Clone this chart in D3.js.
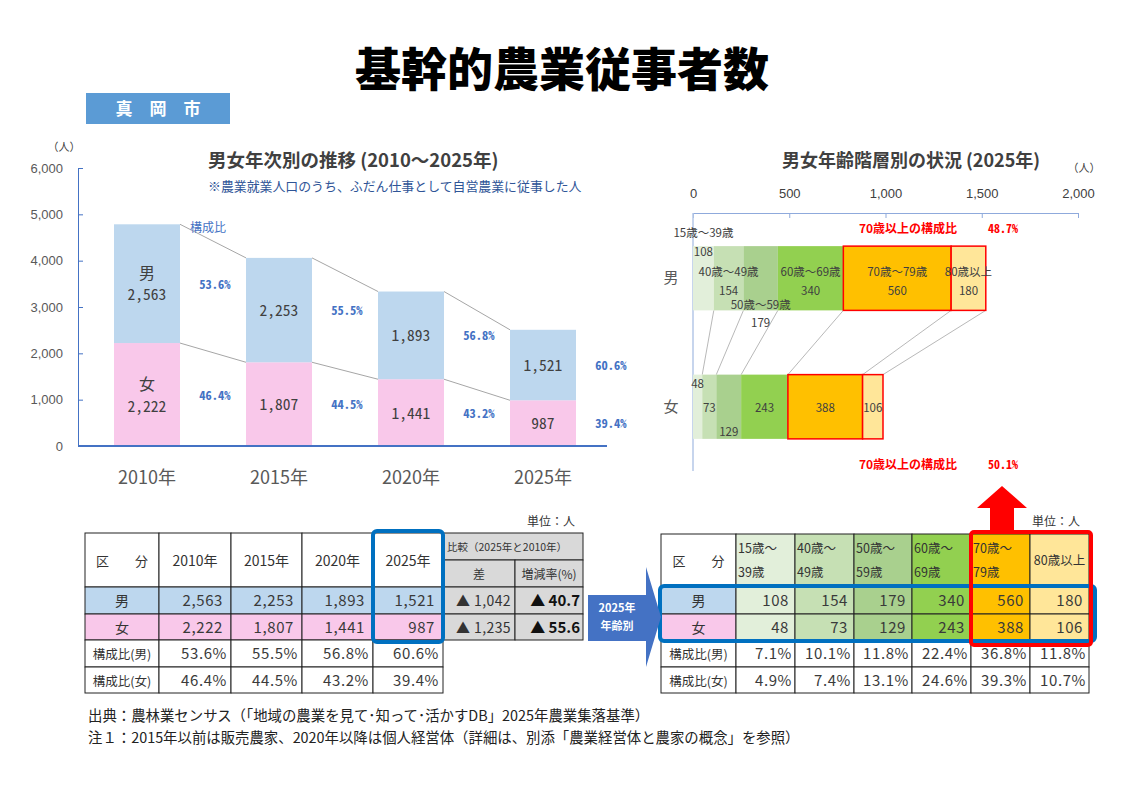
<!DOCTYPE html>
<html><head><meta charset="utf-8">
<script src="https://cdn.jsdelivr.net/npm/d3@7"></script>
<style>body{margin:0;background:#fff} svg{display:block}</style>
</head><body><svg id="c" width="1123" height="794"></svg>
<script>
// ---------- data ----------
const years = ["2010年","2015年","2020年","2025年"];
const male = [2563,2253,1893,1521];
const female = [2222,1807,1441,987];
const maleShare = ["53.6%","55.5%","56.8%","60.6%"];
const femaleShare = ["46.4%","44.5%","43.2%","39.4%"];
const yTicks = [0,1000,2000,3000,4000,5000,6000];
const ageGroups = ["15歳～39歳","40歳～49歳","50歳～59歳","60歳～69歳","70歳～79歳","80歳以上"];
const ageHeaders = [["15歳～","39歳"],["40歳～","49歳"],["50歳～","59歳"],["60歳～","69歳"],["70歳～","79歳"],["80歳以上"]];
const maleAge = [108,154,179,340,560,180];
const femaleAge = [48,73,129,243,388,106];
const maleAgeShare = ["7.1%","10.1%","11.8%","22.4%","36.8%","11.8%"];
const femaleAgeShare = ["4.9%","7.4%","13.1%","24.6%","39.3%","10.7%"];
const ageTicks = [0,500,1000,1500,2000];
const over70Share = ["48.7%","50.1%"];
const diffs = ["▲ 1,042","▲ 1,235"];
const rates = ["▲ 40.7","▲ 55.6"];
const sexes = ["男","女"];
const shareLabels = ["構成比(男)","構成比(女)"];

// ---------- styles ----------
const JP = '"Noto Sans CJK JP","Noto Sans",sans-serif';
const MONO = '"Noto Sans Mono CJK JP","DejaVu Sans Mono",monospace';
const BLUE = "#BDD7EE", PINK = "#F9C8EA", GRAY = "#D9D9D9";
const ageColors = ["#E2EFDA","#C6E0B4","#A9D08E","#92D050","#FFC000","#FFE699"];
const fmt = d3.format(",");

const svg = d3.select("#c");
svg.append("rect").attr("width",1123).attr("height",794).attr("fill","#fff");

function txt(g,x,y,s,o={}){
  const t = g.append("text").attr("x",x).attr("y",y).text(s)
    .attr("font-family",o.ff||JP).attr("font-size",o.fs||13)
    .attr("font-weight",o.fw||400).attr("fill",o.c||"#333")
    .attr("text-anchor",o.a||"start");
  if(o.ls) t.attr("letter-spacing",o.ls);
  return t;
}

// ---------- title ----------
txt(svg,562,86,"基幹的農業従事者数",{fs:46,fw:900,a:"middle",c:"#000"});
svg.append("rect").attr("x",86).attr("y",93).attr("width",144).attr("height",31).attr("fill","#5B9BD5");
txt(svg,158,115,"真　岡　市",{fs:17,fw:700,a:"middle",c:"#fff"});

// ---------- left chart ----------
const gL = svg.append("g");
const x = d3.scaleBand().domain(years).range([81,609]).paddingInner(0.5).paddingOuter(0.25);
const y = d3.scaleLinear().domain([0,6000]).range([446,168]);
const bw = x.bandwidth();
const totals = male.map((m,i)=>m+female[i]);

txt(gL,64,151,"（人）",{fs:11,a:"middle",c:"#404040"});
txt(gL,208,167,"男女年次別の推移 (2010～2025年)",{fs:18.5,fw:700,c:"#404040"});
txt(gL,208,191,"※農業就業人口のうち、ふだん仕事として自営農業に従事した人",{fs:12.9,c:"#2F5597"});

const yAx = gL.append("g").attr("transform","translate(78,0)")
  .call(d3.axisLeft(y).tickValues(yTicks).tickFormat(fmt).tickSizeInner(-5).tickSizeOuter(0).tickPadding(15));
yAx.select(".domain").attr("stroke","#4472C4");
yAx.selectAll(".tick line").attr("stroke","#4472C4");
yAx.selectAll("text").attr("font-size",13).attr("fill","#595959").attr("font-family",'"Liberation Sans",Arial,sans-serif');

// series lines
for(let i=0;i<years.length-1;i++){
  [[totals[i],totals[i+1]],[female[i],female[i+1]]].forEach(([a,b])=>{
    gL.append("line").attr("x1",x(years[i])+bw).attr("y1",y(a))
      .attr("x2",x(years[i+1])).attr("y2",y(b)).attr("stroke","#A6A6A6").attr("stroke-width",1);
  });
}
// bars
gL.selectAll(".f").data(years).join("rect")
  .attr("x",d=>x(d)).attr("width",bw).attr("y",(d,i)=>y(female[i])).attr("height",(d,i)=>y(0)-y(female[i])).attr("fill",PINK);
gL.selectAll(".m").data(years).join("rect").attr("class","m")
  .attr("x",d=>x(d)).attr("width",bw).attr("y",(d,i)=>y(totals[i])).attr("height",(d,i)=>y(female[i])-y(totals[i])).attr("fill",BLUE);
// baseline
gL.append("line").attr("x1",78).attr("x2",607).attr("y1",y(0)).attr("y2",y(0)).attr("stroke","#4472C4").attr("stroke-width",2);

years.forEach((yr,i)=>{
  const cx = x(yr)+bw/2;
  const mMid = (y(totals[i])+y(female[i]))/2, fMid = (y(female[i])+y(0))/2;
  if(i===0){
    txt(gL,cx,mMid-5,"男",{fs:16,a:"middle",c:"#404040"});
    txt(gL,cx,mMid+16,fmt(male[i]),{fs:15.5,a:"middle",c:"#404040",ff:MONO});
    txt(gL,cx,fMid-5,"女",{fs:16,a:"middle",c:"#404040"});
    txt(gL,cx,fMid+17,fmt(female[i]),{fs:15.5,a:"middle",c:"#404040",ff:MONO});
  } else {
    txt(gL,cx,mMid+6,fmt(male[i]),{fs:15.5,a:"middle",c:"#404040",ff:MONO});
    txt(gL,cx,fMid+6,fmt(female[i]),{fs:15.5,a:"middle",c:"#404040",ff:MONO});
  }
  const px = x(yr)+bw+35;
  txt(gL,px,mMid+5,maleShare[i],{fs:12.5,fw:700,a:"middle",c:"#4472C4",ff:MONO});
  txt(gL,px,fMid+5,femaleShare[i],{fs:12.5,fw:700,a:"middle",c:"#4472C4",ff:MONO});
  txt(gL,cx,484,yr,{fs:18,a:"middle",c:"#595959"});
});
txt(gL,x(years[0])+bw+10,y(totals[0])+8,"構成比",{fs:12,c:"#4472C4"});

// ---------- right chart ----------
const gR = svg.append("g");
const xa = d3.scaleLinear().domain([0,2000]).range([693,1078]);
const ya = d3.scaleBand().domain(sexes).range([214,471]).paddingInner(0.5).paddingOuter(0.25);
const bh = ya.bandwidth();
txt(gR,911,167,"男女年齢階層別の状況 (2025年)",{fs:18,fw:700,a:"middle",c:"#404040"});
txt(gR,1084,172,"（人）",{fs:11,a:"middle",c:"#404040"});
const xAx = gR.append("g").attr("transform","translate(0,213)")
  .call(d3.axisTop(xa).tickValues(ageTicks).tickFormat(fmt).tickSizeInner(-5).tickSizeOuter(0).tickPadding(15));
xAx.select(".domain").attr("stroke","#8FAADC");
xAx.selectAll(".tick line").attr("stroke","#8FAADC");
xAx.selectAll("text").attr("font-size",13).attr("fill","#404040").attr("font-family",'"Liberation Sans",Arial,sans-serif');
gR.append("line").attr("x1",693).attr("x2",693).attr("y1",213).attr("y2",471).attr("stroke","#B4C7E7").attr("stroke-width",1.5);

const ageData = [maleAge,femaleAge];
const cums = ageData.map(arr=>{let s=0;return arr.map(v=>{const a=s;s+=v;return [a,s];});});
// connectors
cums[0].forEach((c,i)=>{
  gR.append("line").attr("x1",xa(c[1])).attr("y1",ya("男")+bh).attr("x2",xa(cums[1][i][1])).attr("y2",ya("女"))
    .attr("stroke","#A6A6A6").attr("stroke-width",0.8);
});
sexes.forEach((s,k)=>{
  cums[k].forEach((c,i)=>{
    gR.append("rect").attr("x",xa(c[0])).attr("y",ya(s)).attr("width",xa(c[1])-xa(c[0])).attr("height",bh)
      .attr("fill",ageColors[i]).attr("stroke",i>=4?"#FF0000":"none").attr("stroke-width",1.5);
  });
  txt(gR,671,ya(s)+bh/2+5,s,{fs:15,a:"middle",c:"#595959"});
});
// male labels
const maleMode = ["above","mid","below","mid","mid","mid"];
const mTop = ya("男"), mBot = ya("男")+bh, mMidY = mTop+bh/2;
cums[0].forEach((c,i)=>{
  const cx = (xa(c[0])+xa(c[1]))/2; let ny, vy;
  if(maleMode[i]==="above"){ny=mTop-9; vy=mTop+10;}
  else if(maleMode[i]==="below"){ny=mBot-1; vy=mBot+17;}
  else {ny=mMidY-2; vy=mMidY+17;}
  txt(gR,cx,ny,ageGroups[i],{fs:11.5,a:"middle",c:"#404040"});
  txt(gR,cx,vy,maleAge[i],{fs:11.5,a:"middle",c:"#404040"});
});
const femMode = ["top","mid","bottom","mid","mid","mid"];
const fTop = ya("女"), fBot = fTop+bh, fMidY = fTop+bh/2;
cums[1].forEach((c,i)=>{
  const cx = (xa(c[0])+xa(c[1]))/2;
  const vy = femMode[i]==="top"?fTop+13:femMode[i]==="bottom"?fBot-3:fMidY+5;
  txt(gR,cx,vy,femaleAge[i],{fs:11.5,a:"middle",c:"#404040"});
});
[233,469].forEach((yy,k)=>{
  txt(gR,908,yy,"70歳以上の構成比",{fs:12,fw:700,a:"middle",c:"#FF0000"});
  txt(gR,1003,yy,over70Share[k],{fs:12,fw:700,a:"middle",c:"#FF0000",ff:MONO});
});
// red arrow
svg.append("polygon").attr("points","1002,486 1027,508 1014,508 1014,534 990,534 990,508 977,508").attr("fill","#FF0000");

// ---------- tables ----------
const T = svg.append("g");
function cell(x0,x1,y0,y1,fill){
  T.append("rect").attr("x",x0).attr("y",y0).attr("width",x1-x0).attr("height",y1-y0)
    .attr("fill",fill).attr("stroke","#222").attr("stroke-width",1);
}
const NUM = {fs:15,a:"end",ls:0.6,c:"#3a3a3a"};
// left table
const LC = [85,159,231,302,373,443,515,583];
const LR = [533,560,587,614,640,667,693];
txt(T,575,526,"単位：人",{fs:12,a:"end"});
for(let c=0;c<5;c++) cell(LC[c],LC[c+1],LR[0],LR[2],"#fff");
cell(LC[5],LC[7],LR[0],LR[1],GRAY);
cell(LC[5],LC[6],LR[1],LR[2],GRAY); cell(LC[6],LC[7],LR[1],LR[2],GRAY);
txt(T,(LC[0]+LC[1])/2,566,"区　　分",{fs:13,a:"middle"});
years.forEach((yr,i)=>txt(T,(LC[i+1]+LC[i+2])/2,566,yr,{fs:14,a:"middle"}));
txt(T,447,551,"比較（2025年と2010年）",{fs:10.5});
txt(T,(LC[5]+LC[6])/2,579,"差",{fs:12,a:"middle"});
txt(T,(LC[6]+LC[7])/2,579,"増減率(%)",{fs:12,a:"middle"});
[male,female].forEach((arr,k)=>{
  const y0=LR[2+k], y1=LR[3+k], fill=k?PINK:BLUE;
  cell(LC[0],LC[1],y0,y1,fill);
  txt(T,(LC[0]+LC[1])/2,y0+19,sexes[k],{fs:14,a:"middle"});
  arr.forEach((v,i)=>{cell(LC[i+1],LC[i+2],y0,y1,fill); txt(T,LC[i+2]-8,y0+19,fmt(v),NUM);});
  cell(LC[5],LC[6],y0,y1,GRAY); cell(LC[6],LC[7],y0,y1,GRAY);
  txt(T,LC[6]-4,y0+19,diffs[k],{fs:14,a:"end",ls:0.4});
  txt(T,LC[7]-3,y0+19,rates[k],{fs:15,fw:700,a:"end",c:"#111"});
});
[maleShare,femaleShare].forEach((arr,k)=>{
  const y0=LR[4+k], y1=LR[5+k];
  cell(LC[0],LC[1],y0,y1,"#fff");
  txt(T,(LC[0]+LC[1])/2,y0+19,shareLabels[k],{fs:12.5,a:"middle"});
  arr.forEach((v,i)=>{cell(LC[i+1],LC[i+2],y0,y1,"#fff"); txt(T,LC[i+2]-4,y0+19,v,NUM);});
});
T.append("rect").attr("x",LC[4]).attr("y",531).attr("width",LC[5]-LC[4]).attr("height",111).attr("rx",4)
  .attr("fill","none").attr("stroke","#0070C0").attr("stroke-width",4);

// blue arrow
svg.append("polygon").attr("points","588,595 646,595 646,567 661,617 646,667 646,641 588,641").attr("fill","#4472C4");
txt(svg,617,612,"2025年",{fs:11,fw:700,a:"middle",c:"#fff"});
txt(svg,617,630,"年齢別",{fs:11,fw:700,a:"middle",c:"#fff"});

// right table
const RC = [661,736,795,854,912,971,1030,1089];
const RR = [534,587,614,640,667,693];
txt(T,1080,526,"単位：人",{fs:12,a:"end"});
cell(RC[0],RC[1],RR[0],RR[1],"#fff");
txt(T,(RC[0]+RC[1])/2,566,"区　　分",{fs:13,a:"middle"});
ageHeaders.forEach((h,i)=>{
  cell(RC[i+1],RC[i+2],RR[0],RR[1],ageColors[i]);
  if(h.length===2){
    txt(T,RC[i+1]+2,553,h[0],{fs:12.5});
    txt(T,RC[i+1]+2,577,h[1],{fs:12.5});
  } else txt(T,(RC[i+1]+RC[i+2])/2,565,h[0],{fs:12.5,a:"middle"});
});
[maleAge,femaleAge].forEach((arr,k)=>{
  const y0=RR[1+k], y1=RR[2+k];
  cell(RC[0],RC[1],y0,y1,k?PINK:BLUE);
  txt(T,(RC[0]+RC[1])/2,y0+19,sexes[k],{fs:14,a:"middle"});
  arr.forEach((v,i)=>{cell(RC[i+1],RC[i+2],y0,y1,ageColors[i]); txt(T,RC[i+2]-6,y0+19,v,NUM);});
});
[maleAgeShare,femaleAgeShare].forEach((arr,k)=>{
  const y0=RR[3+k], y1=RR[4+k];
  cell(RC[0],RC[1],y0,y1,"#fff");
  txt(T,(RC[0]+RC[1])/2,y0+19,shareLabels[k],{fs:12.5,a:"middle"});
  arr.forEach((v,i)=>{cell(RC[i+1],RC[i+2],y0,y1,"#fff"); txt(T,RC[i+2]-3,y0+19,v,NUM);});
});
T.append("rect").attr("x",660).attr("y",586).attr("width",435).attr("height",55).attr("rx",4)
  .attr("fill","none").attr("stroke","#0070C0").attr("stroke-width",4);
T.append("rect").attr("x",971).attr("y",532).attr("width",120).attr("height",113).attr("rx",3)
  .attr("fill","none").attr("stroke","#FF0000").attr("stroke-width",4);

// ---------- footnotes ----------
txt(svg,88,721,"出典：農林業センサス（「地域の農業を見て･知って･活かすDB」2025年農業集落基準）",{fs:14.4,c:"#222"});
txt(svg,88,743,"注１：2015年以前は販売農家、2020年以降は個人経営体（詳細は、別添「農業経営体と農家の概念」を参照）",{fs:14.4,c:"#222"});
</script></body></html>
